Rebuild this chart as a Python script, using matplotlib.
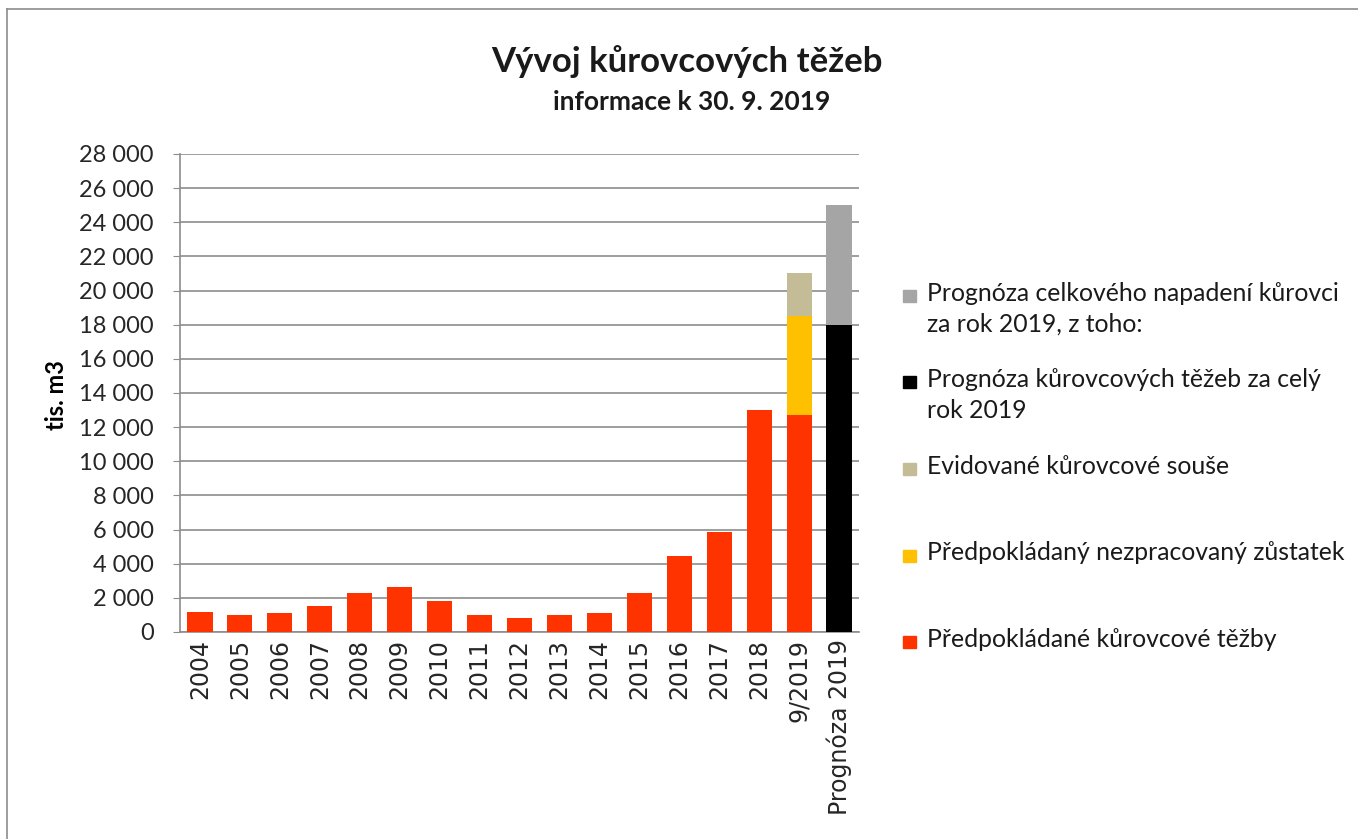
"""Vývoj kůrovcových těžeb - stacked bars with a hand-placed legend."""

import matplotlib
matplotlib.use('Agg')
import numpy
from matplotlib import pyplot, patches, ticker
from matplotlib.lines import Line2D


# Data (tis. m3).
categories = ['2004', '2005', '2006', '2007', '2008', '2009', '2010', '2011',
              '2012', '2013', '2014', '2015', '2016', '2017', '2018',
              '9/2019', 'Prognóza 2019']
tezby = [1200, 1000, 1100, 1500, 2300, 2650, 1800, 1000, 830, 1000, 1100,
         2300, 4450, 5850, 13000, 12700, 0]
zustatek = [0] * 15 + [5800, 0]
souse = [0] * 15 + [2500, 0]
prognoza_tezeb = [0] * 16 + [18000]
prognoza_napadeni = [0] * 16 + [7000]

labels = {
    'napadeni': 'Prognóza celkového napadení kůrovci\nza rok 2019, z toho:',
    'prog_tezeb': 'Prognóza kůrovcových těžeb za celý\nrok 2019',
    'souse': 'Evidované kůrovcové souše',
    'zustatek': 'Předpokládaný nezpracovaný zůstatek',
    'tezby': 'Předpokládané kůrovcové těžby',
}
colors = {
    'napadeni': '#a5a5a5',
    'prog_tezeb': '#000000',
    'souse': '#c4bc96',
    'zustatek': '#ffc000',
    'tezby': '#ff3300',
}

W, H = 1358, 839
pyplot.rc('font', family=['Lato', 'DejaVu Sans'], size=15)

fig = pyplot.figure(figsize=(W / 100, H / 100), dpi=100)
ax = fig.add_axes([180 / W, 1 - 632 / H, (859 - 180) / W, (632 - 154) / H])

x = numpy.arange(len(categories))
width = 0.63
tezby = numpy.array(tezby)
zustatek = numpy.array(zustatek)
souse = numpy.array(souse)
prognoza_tezeb = numpy.array(prognoza_tezeb)
prognoza_napadeni = numpy.array(prognoza_napadeni)

ax.bar(x, tezby, width, color=colors['tezby'], zorder=3)
ax.bar(x, zustatek, width, bottom=tezby, color=colors['zustatek'], zorder=3)
ax.bar(x, souse, width, bottom=tezby + zustatek, color=colors['souse'],
       zorder=3)
ax.bar(x, prognoza_tezeb, width, color=colors['prog_tezeb'], zorder=3)
ax.bar(x, prognoza_napadeni, width, bottom=prognoza_tezeb,
       color=colors['napadeni'], zorder=3)

ax.set_xlim(-0.5, len(categories) - 0.5)
ax.set_ylim(0, 28000)
ax.yaxis.set_major_locator(ticker.MultipleLocator(2000))
ax.yaxis.set_major_formatter(
    ticker.FuncFormatter(lambda v, _: f'{int(v):,}'.replace(',', ' ')))
ax.grid(axis='y', color='#8c8c8c', linewidth=1.2, zorder=0)
ax.set_axisbelow(True)

ax.set_xticks(x)
ax.set_xticklabels(categories, rotation=90, family='DejaVu Sans',
                   fontsize=17, color='#262626')
ax.tick_params(axis='x', length=0, pad=5)
ax.tick_params(axis='y', length=5, color='#8c8c8c', labelsize=17,
               labelcolor='#262626', pad=14)
for side in ('top', 'right'):
    ax.spines[side].set_visible(False)
for side in ('left', 'bottom'):
    ax.spines[side].set_color('#8c8c8c')
    ax.spines[side].set_linewidth(1.2)

fig.text(56 / W, 1 - 395 / H, 'tis. m3', rotation=90, fontsize=17,
         fontweight='bold', ha='center', va='center')

# Titles.
fig.text(687 / W, 1 - 62 / H, 'Vývoj kůrovcových těžeb', fontsize=25,
         fontweight='bold', ha='center', va='center', color='#1a1a1a')
fig.text(692 / W, 1 - 102 / H, 'informace k 30. 9. 2019', fontsize=19,
         fontweight='bold', ha='center', va='center', color='#1a1a1a')

# Legend, laid out like the original (marker aligned with the first line).
order = ['napadeni', 'prog_tezeb', 'souse', 'zustatek', 'tezby']
for i, key in enumerate(order):
    yc = 296 + i * 86.5
    fig.add_artist(patches.Rectangle(
        (903 / W, 1 - (yc + 6) / H), 13 / W, 12 / H,
        transform=fig.transFigure, color=colors[key]))
    fig.text(927 / W, 1 - (yc - 14) / H, labels[key], fontsize=17.8,
             ha='left', va='top', linespacing=1.4, color='#1a1a1a')

# Outer chart frame (top and left edges visible in the reference).
fig.add_artist(Line2D([7 / W, 7 / W], [0, 1 - 9 / H], color='#8c8c8c',
                      linewidth=1.2, transform=fig.transFigure))
fig.add_artist(Line2D([7 / W, 1], [1 - 9 / H, 1 - 9 / H], color='#8c8c8c',
                      linewidth=1.2, transform=fig.transFigure))

fig.savefig('out.png', dpi=100)
